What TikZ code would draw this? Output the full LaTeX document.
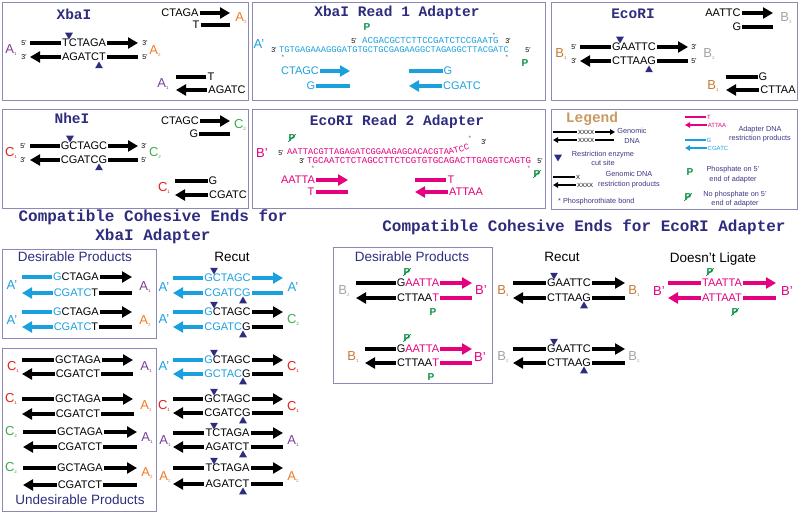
\documentclass[tikz,border=0pt]{standalone}
\usepackage{fontspec}
\setmainfont{Liberation Sans}
\setmonofont{Liberation Mono}
\usepackage{tikz}
\usetikzlibrary{arrows.meta,shapes.geometric}

\definecolor{navy}{HTML}{2E2C7E}
\definecolor{legnavy}{HTML}{3A3682}
\definecolor{adblue}{HTML}{1BA0DE}
\definecolor{mag}{HTML}{E5007D}
\definecolor{apurple}{HTML}{7A3E97}
\definecolor{aorange}{HTML}{F07A22}
\definecolor{cred}{HTML}{E2231A}
\definecolor{cgreen}{HTML}{3DAE49}
\definecolor{bgrey}{HTML}{A3A3A3}
\definecolor{bbrown}{HTML}{C57A32}
\definecolor{pgreen}{HTML}{0D8F45}
\definecolor{legtan}{HTML}{C9995E}
\definecolor{boxcol}{HTML}{8C88B8}

\newcommand{\idx}[1]{\raisebox{-0.2ex}{\fontsize{4.5}{5}\selectfont #1}}
\newcommand{\dnafont}{\fontsize{11}{12}\selectfont}
\newcommand{\strand}[8]{%
	\node[dna] (#1) at (#4,#2) {#6};
	\coordinate (#1-l) at (#3,#2);
	\coordinate (#1-r) at (#5,#2);
	\draw[#7] (#1.west) -- (#1-l);
	\draw[#8] (#1.east) -- (#1-r);
}

\begin{document}
\begin{tikzpicture}[x=1pt, y=-1pt]
			\tikzstyle{panel} = [draw=boxcol, line width=0.9pt]
			\tikzstyle{dna} = [font=\dnafont, inner sep=1pt]
			\tikzstyle{bar} = [line width=4pt]
			\tikzstyle{arr} = [line width=4pt, -{Triangle[length=10pt,width=11pt]}]
			\tikzstyle{nostr} = [draw=none]
			\tikzstyle{title} = [font=\ttfamily\bfseries\fontsize{14.5}{16}\selectfont, text=navy, inner sep=0pt]
			\tikzstyle{bigtitle} = [font=\ttfamily\bfseries\fontsize{16}{19}\selectfont, text=navy, align=center, inner sep=0pt]
			\tikzstyle{head} = [font=\fontsize{13.5}{14}\selectfont, inner sep=0pt]
			\tikzstyle{lab} = [font=\fontsize{13}{13}\selectfont, inner sep=0pt]
			\tikzstyle{endl} = [font=\fontsize{7}{7}\selectfont, inner sep=0pt]
			\tikzstyle{seq} = [font=\ttfamily\fontsize{9.1}{9.1}\selectfont, text=adblue, inner sep=0pt, anchor=west]
			\tikzstyle{star} = [font=\fontsize{6.5}{6.5}\selectfont, text=black!60, inner sep=0pt]
			\tikzstyle{phos} = [font=\bfseries\fontsize{10}{10}\selectfont, text=pgreen, inner sep=0.5pt]
			\tikzstyle{nophos} = [phos, path picture={\draw[pgreen, line width=0.8pt] (path picture bounding box.south west) -- (path picture bounding box.north east);}]
			\tikzstyle{cutdn} = [regular polygon, regular polygon sides=3, shape border rotate=180, fill=navy, inner sep=0pt, minimum size=9pt]
			\tikzstyle{cutup} = [regular polygon, regular polygon sides=3, fill=navy, inner sep=0pt, minimum size=9pt]
			\tikzstyle{legtxt} = [font=\fontsize{7.3}{9.5}\selectfont, text=legnavy, align=center, inner sep=0pt]

			\useasboundingbox (0,0) rectangle (800,513);

			\draw[panel] (2,2) rectangle (248,100);
			\node[title] (xbaT) at (74,14) {XbaI};
			\strand{xbaR1}{13}{180}{180}{230}{CTAGA}{nostr}{arr}
			\strand{xbaR2}{25}{196}{196}{230}{T}{nostr}{bar}
			\node[lab, text=aorange] (xbaA2a) at (241,18) {A\idx{2}};
			\strand{xbaM1}{43}{30}{84}{138}{TCTAGA}{bar}{arr}
			\strand{xbaM2}{57}{30}{84}{138}{AGATCT}{arr}{bar}
			\node[endl] (xba5a) at (24,43) {5’};
			\node[endl] (xba3a) at (145,43) {3’};
			\node[endl] (xba3b) at (24,57) {3’};
			\node[endl] (xba5b) at (145,57) {5’};
			\node[lab, text=apurple] (xbaA1) at (11,50) {A\idx{1}};
			\node[lab, text=aorange] (xbaA2) at (155,51) {A\idx{2}};
			\node[cutdn] (xbaC1) at (69,35) {};
			\node[cutup] (xbaC2) at (99,66) {};
			\strand{xbaL1}{77}{176}{211}{211}{T}{bar}{nostr}
			\strand{xbaL2}{90}{176}{227}{227}{AGATC}{arr}{nostr}
			\node[lab, text=apurple] (xbaA1b) at (163,84) {A\idx{1}};

			\draw[panel] (252,2) rectangle (545,100);
			\node[title] (r1T) at (397,13) {XbaI Read 1 Adapter};
			\node[lab, text=adblue] (r1A) at (259,44) {A’};
			\node[phos] (r1P1) at (367,27) {P};
			\node[endl] (r1e1) at (354,41) {5’};
			\node[seq] (r1S1) at (362,41) {ACGACGCTCTTCCGATCTCCGAATG};
			\node[endl] (r1e2) at (508,41) {3’};
			\node[endl] (r1e3) at (274,50) {3’};
			\node[seq, font=\ttfamily\fontsize{8.7}{9}\selectfont] (r1S2) at (279,50) {TGTGAGAAAGGGATGTGCTGCGAGAAGGCTAGAGGCTTACGATC};
			\node[endl] (r1e4) at (528,50) {5’};
			\node[phos] (r1P2) at (525,63) {P};
			\node[star] (r1s1) at (494,35) {*};
			\node[star] (r1s2) at (283,57) {*};
			\node[star] (r1s3) at (507,57) {*};
			\strand{r1a}{71}{300}{300}{350}{\textcolor{adblue}{CTAGC}}{nostr}{arr,adblue}
			\strand{r1b}{86}{311}{311}{350}{\textcolor{adblue}{G}}{nostr}{bar,adblue}
			\strand{r1c}{71}{409}{448}{448}{\textcolor{adblue}{G}}{bar,adblue}{nostr}
			\strand{r1d}{86}{409}{462}{462}{\textcolor{adblue}{CGATC}}{arr,adblue}{nostr}

			\draw[panel] (551,2) rectangle (797,100);
			\node[title] (ecoT) at (633,14) {EcoRI};
			\strand{ecoR1}{13}{723}{723}{773}{AATTC}{nostr}{arr}
			\strand{ecoR2}{27}{737}{737}{773}{G}{nostr}{bar}
			\node[lab, text=bgrey] (ecoB2a) at (786,18) {B\idx{2}};
			\strand{ecoM1}{47}{580}{634}{688}{GAATTC}{bar}{arr}
			\strand{ecoM2}{61}{580}{634}{688}{CTTAAG}{arr}{bar}
			\node[endl] (eco5a) at (574,47) {5’};
			\node[endl] (eco3a) at (694,47) {3’};
			\node[endl] (eco3b) at (574,61) {3’};
			\node[endl] (eco5b) at (694,61) {5’};
			\node[lab, text=bbrown] (ecoB1) at (561,54) {B\idx{1}};
			\node[lab, text=bgrey] (ecoB2) at (709,54) {B\idx{2}};
			\node[cutdn] (ecoC1) at (620,39) {};
			\node[cutup] (ecoC2) at (649,70) {};
			\strand{ecoL1}{77}{726}{763}{763}{G}{bar}{nostr}
			\strand{ecoL2}{90}{726}{778}{778}{CTTAA}{arr}{nostr}
			\node[lab, text=bbrown] (ecoB1b) at (713,86) {B\idx{1}};

			\draw[panel] (2,109) rectangle (248,208);
			\node[title] (nheT) at (72,118) {NheI};
			\strand{nheR1}{121}{180}{180}{230}{CTAGC}{nostr}{arr}
			\strand{nheR2}{134}{194}{194}{230}{G}{nostr}{bar}
			\node[lab, text=cgreen] (nheC2a) at (240,125) {C\idx{2}};
			\strand{nheM1}{146}{30}{84}{138}{GCTAGC}{bar}{arr}
			\strand{nheM2}{160}{30}{84}{138}{CGATCG}{arr}{bar}
			\node[endl] (nhe5a) at (23,146) {5’};
			\node[endl] (nhe3a) at (144,146) {3’};
			\node[endl] (nhe3b) at (23,160) {3’};
			\node[endl] (nhe5b) at (144,160) {5’};
			\node[lab, text=cred] (nheC1) at (11,153) {C\idx{1}};
			\node[lab, text=cgreen] (nheC2) at (155,153) {C\idx{2}};
			\node[cutdn] (nheK1) at (70,138) {};
			\node[cutup] (nheK2) at (99,168) {};
			\strand{nheL1}{181}{175}{213}{213}{G}{bar}{nostr}
			\strand{nheL2}{195}{175}{228}{228}{CGATC}{arr}{nostr}
			\node[lab, text=cred] (nheC1b) at (164,188) {C\idx{1}};

			\draw[panel] (252,109) rectangle (545,208);
			\node[title] (r2T) at (397,122) {EcoRI Read 2 Adapter};
			\node[lab, text=mag] (r2B) at (262,153) {B’};
			\node[nophos] (r2P1) at (292,138) {P};
			\node[endl] (r2e1) at (281,153) {5’};
			\node[seq, text=mag, font=\ttfamily\fontsize{8.7}{9}\selectfont] (r2S1) at (287,152) {AATTACGTTAGAGATCGGAAGAGCACACGTA};
			\node[seq, text=mag, font=\ttfamily\fontsize{8.7}{9}\selectfont, anchor=base west, rotate=15] (r2S1b) at (r2S1.base east) {ATCC};
			\node[endl] (r2e2) at (484,142) {3’};
			\node[endl] (r2e3) at (302,161) {3’};
			\node[seq, text=mag] (r2S2) at (307,161) {TGCAATCTCTAGCCTTCTCGTGTGCAGACTTGAGGTCAGTG};
			\node[endl] (r2e4) at (540,161) {5’};
			\node[nophos] (r2P2) at (537,174) {P};
			\node[star] (r2s1) at (470,138) {*};
			\node[star] (r2s2) at (313,168) {*};
			\node[star] (r2s3) at (529,168) {*};
			\strand{r2a}{180}{298}{298}{348}{\textcolor{mag}{AATTA}}{nostr}{arr,mag}
			\strand{r2b}{192}{311}{311}{348}{\textcolor{mag}{T}}{nostr}{bar,mag}
			\strand{r2c}{180}{415}{451}{451}{\textcolor{mag}{T}}{bar,mag}{nostr}
			\strand{r2d}{192}{415}{466}{466}{\textcolor{mag}{ATTAA}}{arr,mag}{nostr}

			\draw[panel] (551,109) rectangle (797,209);
			\node[title, text=legtan, anchor=base] (legT) at (592,123) {Legend};
			\begin{scope}[dna/.style={font=\fontsize{6}{6}\selectfont, inner sep=0.8pt}, bar/.style={line width=1.8pt}, arr/.style={line width=1.8pt, -{Triangle[length=5pt,width=5.5pt]}}]
			\strand{lgA}{132}{553}{586}{615}{XXXX}{bar}{arr}
			\strand{lgB}{140}{553}{586}{614}{XXXX}{arr}{bar}
			\strand{lgC}{177}{553}{578}{578}{X}{bar}{nostr}
			\strand{lgD}{185}{553}{585}{585}{XXXX}{arr}{nostr}
			\strand{lgE}{117}{685}{709}{709}{\textcolor{mag}{T}}{bar,mag}{nostr}
			\strand{lgF}{125}{685}{717}{717}{\textcolor{mag}{ATTAA}}{arr,mag}{nostr}
			\strand{lgG}{140}{685}{709}{709}{\textcolor{adblue}{G}}{bar,adblue}{nostr}
			\strand{lgH}{148}{685}{718}{718}{\textcolor{adblue}{CGATC}}{arr,adblue}{nostr}
			\end{scope}
			\node[legtxt] (lgt1) at (632,136) {Genomic\\DNA};
			\node[cutdn] (lgcut) at (558,157) {};
			\node[legtxt] (lgt2) at (603,158.5) {Restriction enzyme\\cut site};
			\node[legtxt] (lgt3) at (629,179.5) {Genomic DNA\\restriction products};
			\node[legtxt, anchor=west] (lgt4) at (558,202) {* Phosphorothiate bond};
			\node[legtxt] (lgt5) at (760,134) {Adapter DNA\\restriction products};
			\node[phos] (lgP1) at (690,172) {P};
			\node[legtxt] (lgt6) at (733,174.5) {Phosphate on 5’\\end of adapter};
			\node[nophos] (lgP2) at (688,197) {P};
			\node[legtxt] (lgt7) at (735,199) {No phosphate on 5’\\end of adapter};

			\node[bigtitle] (xcT) at (153,226.5) {Compatible Cohesive Ends for\\XbaI Adapter};
			\draw[panel] (2,249) rectangle (156,338);
			\node[head, text=navy] (desX) at (75,257) {Desirable Products};
			\strand{dx1}{277}{22}{76}{132}{\textcolor{adblue}{G}CTAGA}{bar,adblue}{arr}
			\strand{dx2}{293}{22}{76}{132}{\textcolor{adblue}{CGATC}T}{arr,adblue}{bar}
			\node[lab, text=adblue] (dxL1) at (12,285) {A’};
			\node[lab, text=apurple] (dxR1) at (145,287) {A\idx{1}};
			\strand{dx3}{312}{22}{76}{132}{\textcolor{adblue}{G}CTAGA}{bar,adblue}{arr}
			\strand{dx4}{327}{22}{76}{132}{\textcolor{adblue}{CGATC}T}{arr,adblue}{bar}
			\node[lab, text=adblue] (dxL2) at (12,320) {A’};
			\node[lab, text=aorange] (dxR2) at (145,321) {A\idx{2}};

			\draw[panel] (2,348) rectangle (156,511);
			\node[head, text=navy] (undX) at (80,500) {Undesirable Products};
			\strand{ux1}{360}{22}{78}{133}{GCTAGA}{bar}{arr}
			\strand{ux2}{374}{22}{78}{133}{CGATCT}{arr}{bar}
			\node[lab, text=cred] (uxL1) at (13,367) {C\idx{1}};
			\node[lab, text=apurple] (uxR1) at (146,367) {A\idx{1}};
			\strand{ux3}{399}{22}{78}{133}{GCTAGA}{bar}{arr}
			\strand{ux4}{414}{22}{78}{134}{CGATCT}{arr}{bar}
			\node[lab, text=cred] (uxL2) at (11,399) {C\idx{1}};
			\node[lab, text=aorange] (uxR2) at (146,406) {A\idx{2}};
			\strand{ux5}{432}{23}{80}{137}{GCTAGA}{bar}{arr}
			\strand{ux6}{447}{23}{80}{137}{CGATCT}{arr}{bar}
			\node[lab, text=cgreen] (uxL3) at (11,432) {C\idx{2}};
			\node[lab, text=apurple] (uxR3) at (147,438) {A\idx{1}};
			\strand{ux7}{468}{23}{80}{137}{GCTAGA}{bar}{arr}
			\strand{ux8}{485}{23}{80}{137}{CGATCT}{arr}{bar}
			\node[lab, text=cgreen] (uxL4) at (11,468) {C\idx{2}};
			\node[lab, text=aorange] (uxR4) at (147,473) {A\idx{2}};

			\node[head] (rcX) at (232,257) {Recut};
			\strand{rc1}{278}{173}{227.5}{283}{\textcolor{adblue}{GCTAGC}}{bar,adblue}{arr,adblue}
			\strand{rc2}{293}{173}{227.5}{283}{\textcolor{adblue}{CGATCG}}{arr,adblue}{bar,adblue}
			\node[lab, text=adblue] (rcL1) at (164,287) {A’};
			\node[lab, text=adblue] (rcR1) at (293,287) {A’};
			\node[cutdn] (rcD1) at (214,270) {};
			\node[cutup] (rcU1) at (243,301) {};
			\strand{rc3}{312}{173}{227.5}{283}{\textcolor{adblue}{G}CTAGC}{bar,adblue}{arr}
			\strand{rc4}{327}{173}{227.5}{283}{\textcolor{adblue}{CGATC}G}{arr,adblue}{bar}
			\node[lab, text=adblue] (rcL2) at (164,319) {A’};
			\node[lab, text=cgreen] (rcR2) at (293,320) {C\idx{2}};
			\node[cutdn] (rcD2) at (214,304) {};
			\node[cutup] (rcU2) at (243,335) {};
			\strand{rc5}{360}{173}{227.5}{283}{\textcolor{adblue}{G}CTAGC}{bar,adblue}{arr}
			\strand{rc6}{374}{173}{227.5}{283}{\textcolor{adblue}{GCTAC}G}{arr,adblue}{bar}
			\node[lab, text=adblue] (rcL3) at (164,366) {A’};
			\node[lab, text=cred] (rcR3) at (293,367) {C\idx{1}};
			\node[cutdn] (rcD3) at (214,352) {};
			\node[cutup] (rcU3) at (243,382) {};
			\strand{rc7}{399}{173}{227.5}{283}{GCTAGC}{bar}{arr}
			\strand{rc8}{413}{173}{227.5}{283}{CGATCG}{arr}{bar}
			\node[lab, text=cred] (rcL4) at (164,406) {C\idx{1}};
			\node[lab, text=cred] (rcR4) at (293,407) {C\idx{1}};
			\node[cutdn] (rcD4) at (214,391) {};
			\node[cutup] (rcU4) at (243,421) {};
			\strand{rc9}{433}{173}{227.5}{283}{TCTAGA}{bar}{arr}
			\strand{rc10}{447}{173}{227.5}{283}{AGATCT}{arr}{bar}
			\node[lab, text=apurple] (rcL5) at (165,441) {A\idx{1}};
			\node[lab, text=apurple] (rcR5) at (293,441) {A\idx{1}};
			\node[cutdn] (rcD5) at (214,425) {};
			\node[cutup] (rcU5) at (243,455) {};
			\strand{rc11}{468}{173}{227.5}{283}{TCTAGA}{bar}{arr}
			\strand{rc12}{484}{173}{227.5}{283}{AGATCT}{arr}{bar}
			\node[lab, text=aorange] (rcL6) at (165,477) {A\idx{2}};
			\node[lab, text=aorange] (rcR6) at (293,477) {A\idx{2}};
			\node[cutdn] (rcD6) at (214,460) {};
			\node[cutup] (rcU6) at (243,492) {};

			\node[bigtitle] (ecT) at (584,227) {Compatible Cohesive Ends for EcoRI Adapter};
			\draw[panel] (333,247) rectangle (492,383);
			\node[head, text=navy] (deE) at (412,257) {Desirable Products};
			\strand{de1}{283}{356}{418}{472}{G\textcolor{mag}{AATTA}}{bar}{arr,mag}
			\strand{de2}{298}{356}{418}{472}{CTTAA\textcolor{mag}{T}}{arr}{bar,mag}
			\node[lab, text=bgrey] (deL1) at (344,291) {B\idx{2}};
			\node[lab, text=mag] (deR1) at (481,290) {B’};
			\node[nophos] (deP1) at (407,272) {P};
			\node[phos] (deP2) at (433,312) {P};
			\strand{de3}{349}{365}{418}{472}{G\textcolor{mag}{AATTA}}{bar}{arr,mag}
			\strand{de4}{363}{365}{418}{472}{CTTAA\textcolor{mag}{T}}{arr}{bar,mag}
			\node[lab, text=bbrown] (deL2) at (353,357) {B\idx{1}};
			\node[lab, text=mag] (deR2) at (480,357) {B’};
			\node[nophos] (deP3) at (407,338) {P};
			\node[phos] (deP4) at (431,377) {P};

			\node[head] (reE) at (562,257) {Recut};
			\strand{re1}{283}{513}{569}{625}{GAATTC}{bar}{arr}
			\strand{re2}{298}{513}{569}{625}{CTTAAG}{arr}{bar}
			\node[lab, text=bbrown] (reL1) at (503,291) {B\idx{1}};
			\node[lab, text=bbrown] (reR1) at (634,291) {B\idx{1}};
			\node[cutdn] (reD1) at (554,275) {};
			\node[cutup] (reU1) at (584,306) {};
			\strand{re3}{349}{513}{569}{625}{GAATTC}{bar}{arr}
			\strand{re4}{363}{513}{569}{625}{CTTAAG}{arr}{bar}
			\node[lab, text=bgrey] (reL2) at (503,357) {B\idx{2}};
			\node[lab, text=bgrey] (reR2) at (634,357) {B\idx{2}};
			\node[cutdn] (reD2) at (554,341) {};
			\node[cutup] (reU2) at (584,371) {};

			\node[head, anchor=base] (dlE) at (713,262) {Doesn’t Ligate};
			\strand{dl1}{283}{668}{722}{776}{\textcolor{mag}{TAATTA}}{bar,mag}{arr,mag}
			\strand{dl2}{298}{668}{722}{776}{\textcolor{mag}{ATTAAT}}{arr,mag}{bar,mag}
			\node[lab, text=mag] (dlL1) at (659,291) {B’};
			\node[lab, text=mag] (dlR1) at (787,291) {B’};
			\node[nophos] (dlP1) at (710,272) {P};
			\node[nophos] (dlP2) at (735,312) {P};

\end{tikzpicture}
\end{document}
